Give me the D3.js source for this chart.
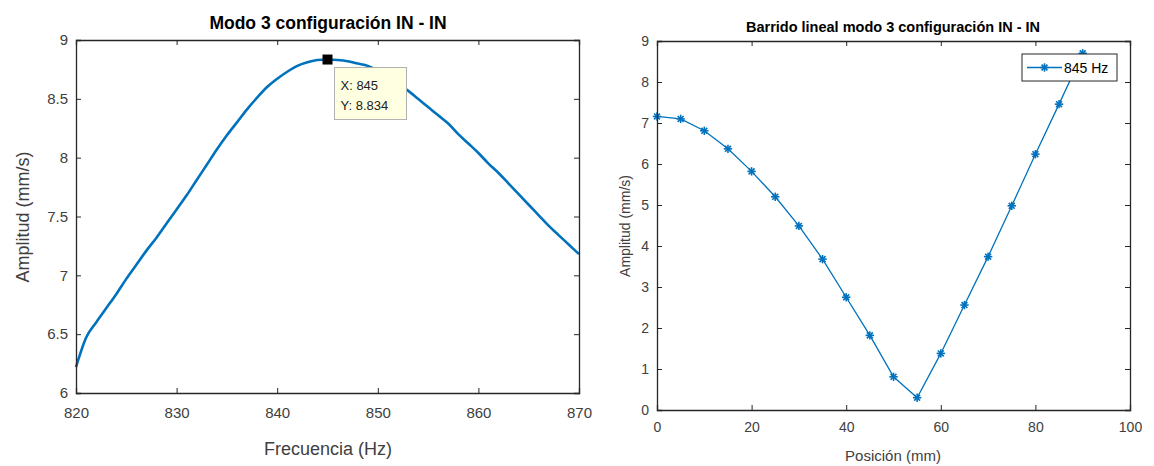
<!DOCTYPE html>
<html><head><meta charset="utf-8">
<script src="https://cdn.jsdelivr.net/npm/d3@7"></script>
<style>
body{margin:0;background:#fff;}
svg{display:block;}
text{font-family:"Liberation Sans",Arial,sans-serif;}
</style></head>
<body><svg id="c" width="1154" height="466"></svg>
<script>
// Left chart: frequency sweep
const freq = d3.range(820, 871, 1);
const amp = [6.22,6.47,6.60,6.72,6.84,6.97,7.09,7.21,7.32,7.44,7.56,7.68,7.81,7.94,8.07,8.19,8.30,8.41,8.51,8.60,8.67,8.73,8.78,8.81,8.83,8.834,8.83,8.82,8.80,8.78,8.74,8.69,8.63,8.57,8.50,8.43,8.36,8.29,8.20,8.12,8.04,7.95,7.87,7.78,7.69,7.60,7.51,7.42,7.34,7.26,7.18];
const leftXTicks = [820,830,840,850,860,870];
const leftYTicks = [6,6.5,7,7.5,8,8.5,9];
const peak = {x:845, y:8.834};

// Right chart: linear sweep
const pos = [0,5,10,15,20,25,30,35,40,45,50,55,60,65,70,75,80,85,90];
const ampPos = [7.16,7.10,6.81,6.37,5.82,5.20,4.49,3.68,2.75,1.82,0.81,0.30,1.38,2.56,3.74,4.98,6.24,7.46,8.70];
const rightXTicks = [0,20,40,60,80,100];
const rightYTicks = [0,1,2,3,4,5,6,7,8,9];

const blue = "#0072BD", axc = "#262626", tc = "#404040";
const svg = d3.select("#c");

function frame(g, x, y, xt, yt, fs, fmtY, xpad){
  const [x0,x1] = x.range(), [y0,y1] = y.range();
  const tl = 5;
  const bx = g.append("g").attr("transform",`translate(0,${y0})`)
    .call(d3.axisBottom(x).tickValues(xt).tickSize(-tl).tickPadding(xpad).tickFormat(d3.format("d")));
  const tx = g.append("g").attr("transform",`translate(0,${y1})`)
    .call(d3.axisTop(x).tickValues(xt).tickSize(-tl).tickFormat(""));
  const ly = g.append("g").attr("transform",`translate(${x0},0)`)
    .call(d3.axisLeft(y).tickValues(yt).tickSize(-tl).tickPadding(8).tickFormat(fmtY));
  const ry = g.append("g").attr("transform",`translate(${x1},0)`)
    .call(d3.axisRight(y).tickValues(yt).tickSize(-tl).tickFormat(""));
  [bx,tx,ly,ry].forEach(a=>{
    a.select(".domain").attr("stroke",axc).attr("stroke-width",1.3);
    a.selectAll(".tick line").attr("stroke",axc);
    a.selectAll(".tick text").attr("fill",tc).style("font-size",fs+"px").style("font-family",'"Liberation Sans",Arial,sans-serif');
  });
}

// ---- Left
{
  const g = svg.append("g");
  const x = d3.scaleLinear().domain([820,870]).range([76,579]);
  const y = d3.scaleLinear().domain([6,9]).range([393,40]);
  const line = d3.line().x((d,i)=>x(freq[i])).y(d=>y(d)).curve(d3.curveMonotoneX);
  g.append("path").datum(amp).attr("d",line).attr("fill","none").attr("stroke",blue).attr("stroke-width",2.6);
  frame(g,x,y,leftXTicks,leftYTicks,15,d3.format("~g"),14);
  g.append("text").attr("x",328).attr("y",29).attr("text-anchor","middle")
    .style("font-size","17.5px").style("font-weight","bold").attr("fill","#000").text("Modo 3 configuración IN - IN");
  g.append("text").attr("x",328).attr("y",455).attr("text-anchor","middle")
    .style("font-size","18px").attr("fill",tc).text("Frecuencia (Hz)");
  g.append("text").attr("transform","translate(29,217) rotate(-90)").attr("text-anchor","middle")
    .style("font-size","18px").attr("fill",tc).text("Amplitud (mm/s)");
  // data tip
  const px = x(peak.x), py = y(peak.y);
  const tip = g.append("g").attr("transform",`translate(${px+7},${py+8})`);
  tip.append("rect").attr("width",72).attr("height",52).attr("fill","#ffffe1").attr("stroke","#b0b0b0");
  tip.append("text").attr("x",6).attr("y",22).style("font-size","13px").attr("fill","#222").text("X: "+peak.x);
  tip.append("text").attr("x",6).attr("y",42).style("font-size","13px").attr("fill","#222").text("Y: "+peak.y);
  g.append("rect").attr("x",px-5).attr("y",py-5).attr("width",10).attr("height",10).attr("fill","#000");
}

// ---- Right
{
  const g = svg.append("g");
  const x = d3.scaleLinear().domain([0,100]).range([657,1130]);
  const y = d3.scaleLinear().domain([0,9]).range([410,41]);
  const line = d3.line().x((d,i)=>x(pos[i])).y(d=>y(d));
  g.append("path").datum(ampPos).attr("d",line).attr("fill","none").attr("stroke",blue).attr("stroke-width",1.3);
  const drawStar = (sel, cx, cy) => {
    const s = 4.2;
    const gg = sel.append("g").attr("transform",`translate(${cx},${cy})`);
    [[-s,0,s,0],[0,-s,0,s],[-s*0.7,-s*0.7,s*0.7,s*0.7],[-s*0.7,s*0.7,s*0.7,-s*0.7]].forEach(l=>
      gg.append("line").attr("x1",l[0]).attr("y1",l[1]).attr("x2",l[2]).attr("y2",l[3]).attr("stroke",blue).attr("stroke-width",1.6));
  };
  ampPos.forEach((v,i)=>drawStar(g, x(pos[i]), y(v)));
  frame(g,x,y,rightXTicks,rightYTicks,14,d3.format("d"),12);
  g.append("text").attr("x",893).attr("y",32).attr("text-anchor","middle")
    .style("font-size","14.5px").style("font-weight","bold").attr("fill","#000").text("Barrido lineal modo 3 configuración IN - IN");
  g.append("text").attr("x",893).attr("y",461).attr("text-anchor","middle")
    .style("font-size","15px").attr("fill",tc).text("Posición (mm)");
  g.append("text").attr("transform","translate(630,226) rotate(-90)").attr("text-anchor","middle")
    .style("font-size","14px").attr("fill",tc).text("Amplitud (mm/s)");
  // legend
  const lg = g.append("g").attr("transform","translate(1022,54)");
  lg.append("rect").attr("width",95).attr("height",27).attr("fill","#fff").attr("stroke",axc).attr("stroke-width",1);
  lg.append("line").attr("x1",5).attr("x2",40).attr("y1",13.5).attr("y2",13.5).attr("stroke",blue).attr("stroke-width",1.3);
  drawStar(lg, 22.5, 13.5);
  lg.append("text").attr("x",42).attr("y",19).style("font-size","14px").attr("fill","#000").text("845 Hz");
}
</script></body></html>
